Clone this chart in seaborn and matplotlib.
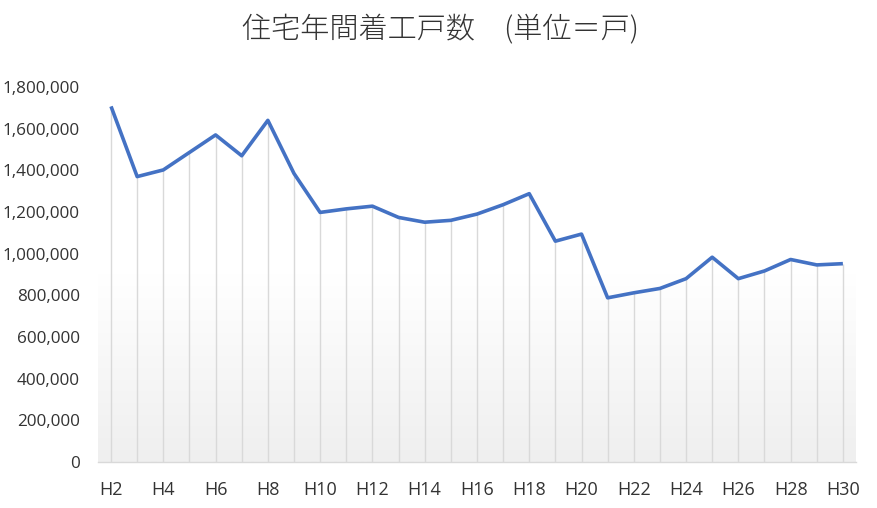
import numpy as np
import pandas as pd
import matplotlib
matplotlib.use("Agg")
import matplotlib.pyplot as plt
from matplotlib.colors import LinearSegmentedColormap
import seaborn as sns

# Data
years = ["H2", "H3", "H4", "H5", "H6", "H7", "H8", "H9", "H10", "H11",
         "H12", "H13", "H14", "H15", "H16", "H17", "H18", "H19", "H20", "H21",
         "H22", "H23", "H24", "H25", "H26", "H27", "H28", "H29", "H30"]
starts = [1707000, 1370000, 1402000, 1486000, 1570000, 1470000, 1640000, 1385000,
          1198000, 1215000, 1228000, 1174000, 1151000, 1160000, 1190000, 1235000,
          1288000, 1060000, 1094000, 788000, 812000, 833000, 880000, 983000,
          880000, 917000, 972000, 946000, 952000]
tick_labels = years[::2]

df = pd.DataFrame({"year": years, "starts": starts})

sns.set_theme(style="white")
plt.rcParams["font.family"] = ["Open Sans", "DejaVu Sans"]

fig = plt.figure(figsize=(8.77, 5.08), dpi=100)
ax = fig.add_axes([0.1117, 0.0906, 0.8643, 0.7381])

# soft vertical gradient behind the plot area
grad = np.linspace(0, 1, 256).reshape(-1, 1)
cmap = LinearSegmentedColormap.from_list("bg", ["#ffffff", "#ffffff", "#efefef"])
ax.imshow(grad, cmap=cmap, aspect="auto", extent=[0, 1, 0, 1],
          transform=ax.transAxes, zorder=0)

pos = np.arange(len(years))
# drop lines from each point down to the axis
ax.vlines(pos, 0, df["starts"], color="#d9d9d9", linewidth=1.0, zorder=1)

sns.lineplot(x=pos, y=df["starts"], ax=ax, color="#4472C4", linewidth=2.6,
             zorder=3, solid_joinstyle="round", solid_capstyle="butt")

ax.set_xlim(-0.5, len(years) - 0.5)
ax.set_ylim(0, 1800000)
ax.set_xticks(pos[::2])
ax.set_xticklabels(tick_labels)
ax.set_yticks(np.arange(0, 1800001, 200000))
ax.yaxis.set_major_formatter(matplotlib.ticker.FuncFormatter(lambda v, p: f"{int(v):,}"))
ax.tick_params(axis="both", length=0, colors="#333333")
ax.tick_params(axis="y", pad=13, labelsize=12.3)
ax.tick_params(axis="x", pad=14, labelsize=13)
ax.set_xlabel("")
ax.set_ylabel("")
for s in ["top", "right", "left"]:
    ax.spines[s].set_visible(False)
ax.spines["bottom"].set_color("#d9d9d9")
ax.spines["bottom"].set_linewidth(1.0)
ax.grid(False)

fig.text(0.502, 0.94, "住宅年間着工戸数　(単位＝戸)", ha="center", va="center",
         fontsize=21, color="#333333",
         family=["Noto Sans CJK JP", "DejaVu Sans"], fontweight="light")

fig.savefig("out.png", dpi=100)
